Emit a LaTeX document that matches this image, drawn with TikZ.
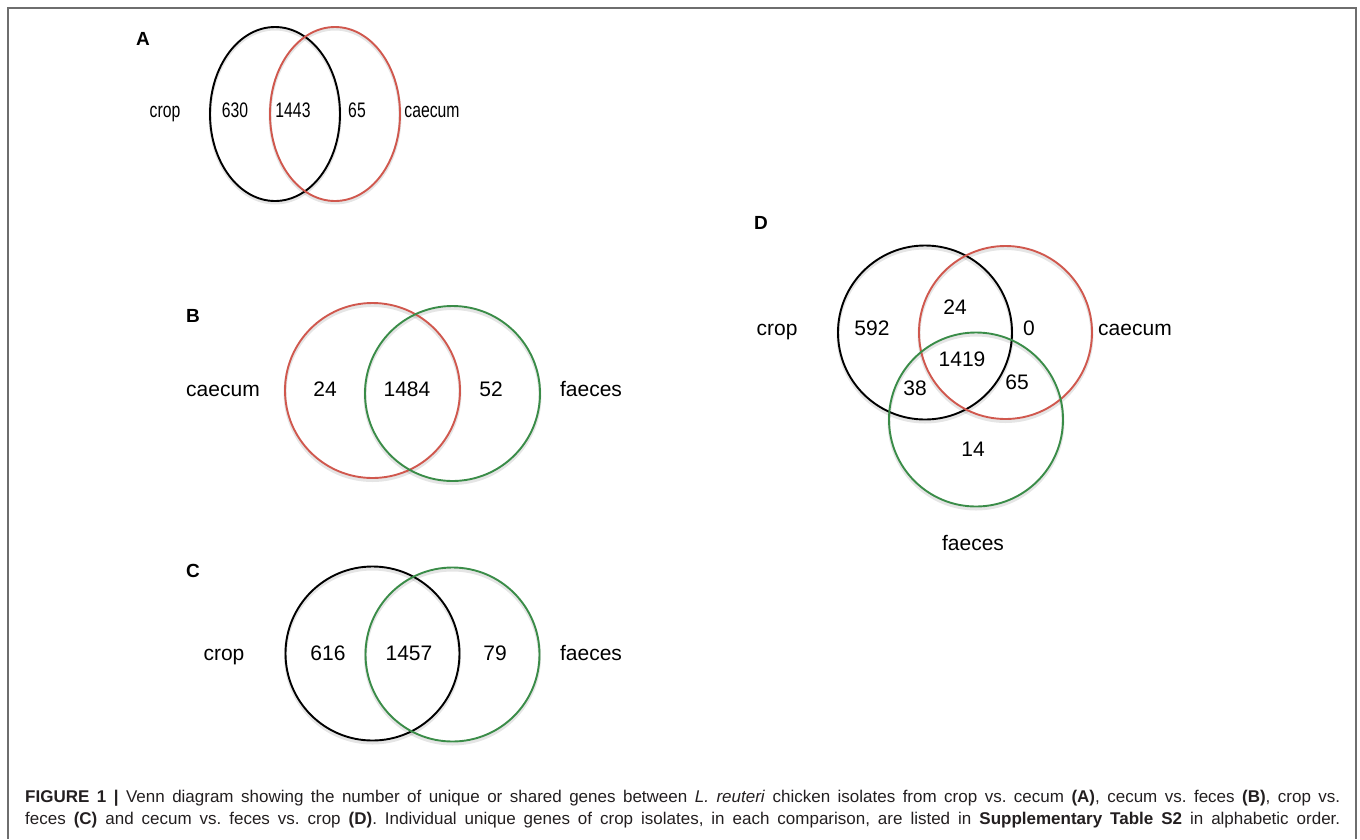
\documentclass[tikz,border=0pt]{standalone}
\usepackage{fontspec}
\setmainfont{Liberation Sans}
\frenchspacing
\definecolor{vred}{RGB}{208,88,78}
\definecolor{vgreen}{RGB}{58,140,72}
\definecolor{framegray}{RGB}{110,110,110}
\definecolor{captxt}{RGB}{35,31,32}
\tikzset{
  setcirc/.style={line width=1.9pt},
  shade/.style={line width=3pt, draw=black, opacity=0.10},
  lbl/.style={anchor=base, inner sep=0pt, font=\fontsize{21}{24}\selectfont},
  panelletter/.style={anchor=base, inner sep=0pt, font=\bfseries\fontsize{19}{22}\selectfont},
  capline/.style={anchor=base west, inner sep=0pt, text=captxt, font=\fontsize{17}{20}\selectfont}
}
\newcommand{\sq}[1]{\scalebox{0.75}[1]{#1}}
\begin{document}
\begin{tikzpicture}[x=1pt,y=-1pt]
\useasboundingbox (0,0) rectangle (1360,839);
% frame
\draw[framegray, line width=2pt] (8,839) -- (8,8) -- (1356,8) -- (1356,839);

% ---------- A ----------
\draw[shade] (275,116) ellipse [x radius=65, y radius=87];
\draw[shade] (335,116) ellipse [x radius=65, y radius=87];
\draw[setcirc, black] (275,114) ellipse [x radius=65, y radius=87];
\draw[setcirc, vred] (335,114) ellipse [x radius=65, y radius=87];
\node[panelletter] (pA) at (143,45) {A};
\node[lbl] (aL) at (165,117.5) {\sq{crop}};
\node[lbl] (a1) at (235,117.5) {\sq{630}};
\node[lbl] (a2) at (293,117.5) {\sq{1443}};
\node[lbl] (a3) at (357,117.5) {\sq{65}};
\node[lbl] (aR) at (432,117.5) {\sq{caecum}};

% ---------- B ----------
\draw[shade] (372.5,393) circle [radius=87.5];
\draw[shade] (452.5,396) circle [radius=87.5];
\draw[setcirc, vred] (372.5,390.5) circle [radius=87.5];
\draw[setcirc, vgreen] (452.5,393.5) circle [radius=87.5];
\node[panelletter] (pB) at (193,322) {B};
\node[lbl] (bL) at (223,396.5) {caecum};
\node[lbl] (b1) at (325,396.5) {24};
\node[lbl] (b2) at (407,396.5) {1484};
\node[lbl] (b3) at (491,396.5) {52};
\node[lbl] (bR) at (591,396.5) {faeces};

% ---------- C ----------
\draw[shade] (372.5,656) circle [radius=87];
\draw[shade] (452.5,657) circle [radius=87];
\draw[setcirc, black] (372.5,653.5) circle [radius=87];
\draw[setcirc, vgreen] (452.5,654.5) circle [radius=87];
\node[panelletter] (pC) at (193,577) {C};
\node[lbl] (cL) at (224,660.5) {crop};
\node[lbl] (c1) at (328,660.5) {616};
\node[lbl] (c2) at (409,660.5) {1457};
\node[lbl] (c3) at (495,660.5) {79};
\node[lbl] (cR) at (591,660.5) {faeces};

% ---------- D ----------
\draw[shade] (925,335) circle [radius=87];
\draw[shade] (1005.5,335) circle [radius=86.5];
\draw[shade] (976,422) circle [radius=87];
\draw[setcirc, black] (925,332.5) circle [radius=87];
\draw[setcirc, vred] (1005.5,332.5) circle [radius=86.5];
\draw[setcirc, vgreen] (976,419.5) circle [radius=87];
\node[panelletter] (pD) at (761,229) {D};
\node[lbl] (dL) at (777,335.5) {crop};
\node[lbl] (d592) at (872,335.5) {592};
\node[lbl] (d24) at (955,314.5) {24};
\node[lbl] (d0) at (1029,335.5) {0};
\node[lbl] (dR) at (1135,335.5) {caecum};
\node[lbl] (d1419) at (962,366.5) {1419};
\node[lbl] (d38) at (915,395.5) {38};
\node[lbl] (d65) at (1017,389.5) {65};
\node[lbl] (d14) at (973,456.5) {14};
\node[lbl] (dB) at (973,550.5) {faeces};

% ---------- caption ----------
\node[capline] (cap1) at (25,802) {\makebox[1315pt][s]{\textbf{FIGURE 1 |} Venn diagram showing the number of unique or shared genes between \textit{L. reuteri} chicken isolates from crop vs. cecum \textbf{(A)}, cecum vs. feces \textbf{(B)}, crop vs.}};
\node[capline] (cap2) at (25,824) {\makebox[1315pt][s]{feces \textbf{(C)} and cecum vs. feces vs. crop \textbf{(D)}. Individual unique genes of crop isolates, in each comparison, are listed in \textbf{Supplementary Table S2} in alphabetic order.}};
\end{tikzpicture}
\end{document}
